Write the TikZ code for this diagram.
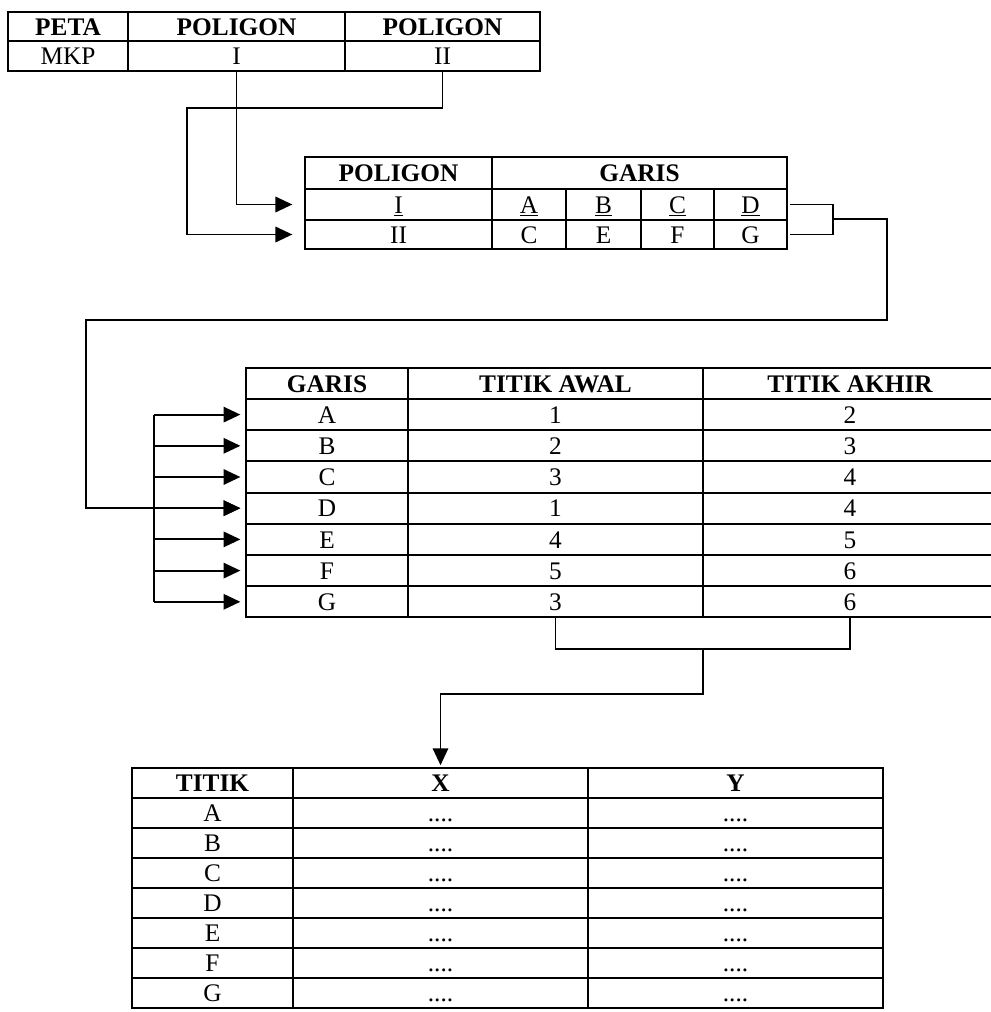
\documentclass[tikz,border=0pt]{standalone}
\usepackage{fontspec}
\setmainfont{Liberation Serif}
\usepackage{tikz}
\usetikzlibrary{arrows.meta,positioning,calc}

\begin{document}
\begin{tikzpicture}[
  x=0.025cm, y=-0.025cm,
  font=\fontsize{18}{20}\selectfont,
  cell/.style 2 args={draw,line width=1.35pt,inner sep=0pt,outer sep=0pt,anchor=north west,
              minimum width=#1*0.025cm,minimum height=#2*0.025cm,text height=12.5pt,text depth=0pt},
  hd/.style 2 args={cell={#1}{#2},font=\fontsize{18}{20}\selectfont\bfseries},
  link/.style={line width=1.3pt},
  arr/.style={link,-{Triangle[length=12pt,width=11pt]}}]
  \useasboundingbox (0,0) rectangle (991,1012);
  % peta / poligon
  \node[hd={120}{29}] (peta) at (8,12) {PETA};
  \node[hd={217}{29}] (polA) at (128,12) {POLIGON};
  \node[hd={195}{29}] (polB) at (345,12) {POLIGON};
  \node[cell={120}{30}] (mkp) at (8,41) {MKP};
  \node[cell={217}{30}] (pI) at (128,41) {I};
  \node[cell={195}{30}] (pII) at (345,41) {II};
  % poligon / garis
  \node[hd={187}{32}] (hpol) at (305,157) {POLIGON};
  \node[hd={295}{32}] (hgar) at (492,157) {GARIS};
  \node[cell={187}{31}] (r1) at (305,189) {\underline{I}};
  \node[cell={187}{29}] (r2) at (305,220) {II};
  \foreach \t/\x/\w [count=\i] in {A/492/74,B/566/75,C/641/73,D/714/73}
    \node[cell={\w}{31}] (g1\i) at (\x,189) {\underline{\t}};
  \foreach \t/\x/\w [count=\i] in {C/492/74,E/566/75,F/641/73,G/714/73}
    \node[cell={\w}{29}] (g2\i) at (\x,220) {\t};
  \coordinate (jII) at (187,108);
  \draw[arr,shorten >=9pt] (pI.south) |- (r1.west);
  \draw[arr,shorten >=9pt] (pII.south) |- (jII) |- (r2.west);
  % garis / titik awal / titik akhir
  \node[hd={162}{31}] (hgr) at (246,368) {GARIS};
  \node[hd={295}{31}] (haw) at (408,368) {TITIK AWAL};
  \node[hd={294}{31}] (hak) at (703,368) {TITIK AKHIR};
  \foreach \g/\a/\b [count=\i] in {A/1/2,B/2/3,C/3/4,D/1/4,E/4/5,F/5/6,G/3/6} {
    \node[cell={162}{31.2}] (l\i) at (246,{399+(\i-1)*31.2}) {\g};
    \node[cell={295}{31.2}] (aw\i) at (408,{399+(\i-1)*31.2}) {\a};
    \node[cell={294}{31.2}] (ak\i) at (703,{399+(\i-1)*31.2}) {\b};
  }
  \coordinate (brk) at (833,219);
  \coordinate (bk1) at (887,320);
  \coordinate (bk2) at (86,320);
  \coordinate (bus) at (154,0);
  \draw[link,shorten <=2pt] (g14.east) -| (brk);
  \draw[link,shorten <=2pt] (g24.east) -| (brk);
  \draw[arr,shorten >=4pt] (brk) -| (bk1) -- (bk2) |- (l4.west);
  \draw[link] (l1.west -| bus) -- (l7.west -| bus);
  \foreach \i in {1,...,7}
    \draw[arr,shorten >=4pt] (l\i.west -| bus) -- (l\i.west);
  % titik / x / y
  \node[hd={161}{30}] (htk) at (132,768) {TITIK};
  \node[hd={295}{30}] (hx) at (293,768) {X};
  \node[hd={295}{30}] (hy) at (588,768) {Y};
  \foreach \p [count=\i] in {A,B,C,D,E,F,G} {
    \node[cell={161}{30}] (t\i) at (132,{798+(\i-1)*30}) {\p};
    \node[cell={295}{30}] (x\i) at (293,{798+(\i-1)*30}) {....};
    \node[cell={295}{30}] (y\i) at (588,{798+(\i-1)*30}) {....};
  }
  \coordinate (jn) at (703,649);
  \coordinate (jn2) at (703,694);
  \draw[link] (aw7.south) |- (jn) -| (ak7.south);
  \draw[arr,shorten >=2pt] (jn) -- (jn2) -| (hx.north);
\end{tikzpicture}
\end{document}
